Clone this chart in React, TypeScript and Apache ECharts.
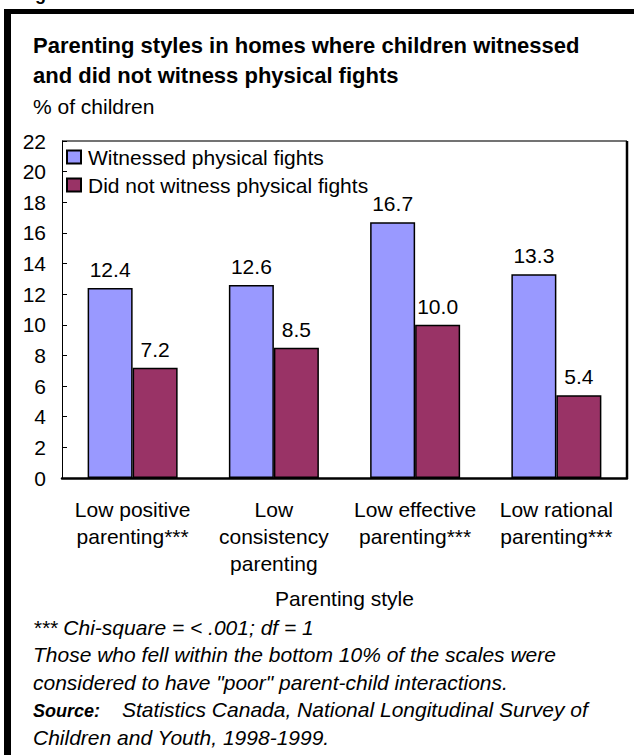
import React, { useEffect, useRef } from "react";
import * as echarts from "echarts";

const categories = [
  "Low positive\nparenting***",
  "Low\nconsistency\nparenting",
  "Low effective\nparenting***",
  "Low rational\nparenting***",
];
const witnessed = [12.4, 12.6, 16.7, 13.3];
const notWitnessed = [7.2, 8.5, 10.0, 5.4];
const seriesNames = ["Witnessed physical fights", "Did not witness physical fights"];
const titleLines = [
  "Parenting styles in homes where children witnessed",
  "and did not witness physical fights",
];
const footnotes = [
  "*** Chi-square = < .001; df = 1",
  "Those who fell within the bottom 10% of the scales were",
  "considered to have \"poor\" parent-child interactions.",
];
const sourceLabel = "Source:";
const sourceLines = [
  "Statistics Canada, National Longitudinal Survey of",
  "Children and Youth, 1998-1999.",
];

const FONT = "'Liberation Sans', Arial, sans-serif";
const FS = 21;

export default function App() {
  const ref = useRef<HTMLDivElement>(null);
  useEffect(() => {
    if (!ref.current) return;
    const chart = echarts.init(ref.current, null, { renderer: "svg" });
    const gridLeft = 62, gridTop = 141, gridRight = 627, gridBottom = 478;
    const fnTop = 627;
    const labelCfg = {
      show: true,
      position: "top",
      distance: 8,
      fontSize: FS,
      color: "#000",
      fontFamily: FONT,
      formatter: (p: any) => Number(p.value).toFixed(1),
    };
    chart.setOption({
      animation: false,
      textStyle: { fontFamily: FONT, color: "#000" },
      grid: {
        left: gridLeft,
        top: gridTop,
        width: gridRight - gridLeft,
        height: gridBottom - gridTop,
      },
      legend: {
        orient: "vertical",
        left: 66,
        top: 146,
        padding: 0,
        itemGap: 6,
        itemWidth: 14,
        itemHeight: 13,
        icon: "rect",
        textStyle: { fontSize: FS, lineHeight: 22, color: "#000", fontFamily: FONT, padding: [0, 0, 0, 2] },
        data: seriesNames,
      },
      xAxis: {
        type: "category",
        data: categories,
        axisLine: { lineStyle: { color: "#000", width: 2.5 } },
        axisTick: { show: false },
        axisLabel: {
          fontSize: FS,
          lineHeight: 27,
          color: "#000",
          margin: 18,
          fontFamily: FONT,
          interval: 0,
        },
        name: "Parenting style",
        nameLocation: "middle",
        nameGap: 110,
        nameTextStyle: { fontSize: FS, color: "#000", fontFamily: FONT, verticalAlign: "top" },
      },
      yAxis: {
        type: "value",
        min: 0,
        max: 22,
        interval: 2,
        splitLine: { show: false },
        axisLine: { show: true, lineStyle: { color: "#000", width: 1 } },
        axisTick: { show: true, inside: true, length: 5, lineStyle: { color: "#000" } },
        axisLabel: { fontSize: FS, color: "#000", margin: 16, fontFamily: FONT },
      },
      series: [
        {
          name: seriesNames[0],
          type: "bar",
          data: witnessed,
          barWidth: 45,
          barGap: "0%",
          itemStyle: { color: "#9999FF", borderColor: "#000", borderWidth: 1.5 },
          label: labelCfg,
        },
        {
          name: seriesNames[1],
          type: "bar",
          data: notWitnessed,
          barWidth: 45,
          barGap: "0%",
          itemStyle: { color: "#993366", borderColor: "#000", borderWidth: 1.5 },
          label: labelCfg,
        },
      ],
      graphic: [
        // frame (top and left thick black bars)
        { type: "rect", shape: { x: 4, y: 9, width: 630, height: 5 }, style: { fill: "#000" } },
        { type: "rect", shape: { x: 4, y: 9, width: 7, height: 760 }, style: { fill: "#000" } },
        // cut-off heading above frame
        {
          type: "text",
          x: 19,
          y: -15,
          style: { text: "Fig", font: `bold 18px ${FONT}`, fill: "#000", textVerticalAlign: "top" },
        },
        // plot top and right borders
        { type: "line", shape: { x1: gridLeft, y1: gridTop, x2: gridRight, y2: gridTop }, style: { stroke: "#444", lineWidth: 1.5 } },
        { type: "line", shape: { x1: gridRight, y1: gridTop, x2: gridRight, y2: gridBottom }, style: { stroke: "#000", lineWidth: 2.5 } },
        // title
        ...titleLines.map((t, i) => ({
          type: "text",
          x: 33,
          y: 45 + i * 30,
          style: { text: t, font: `bold 22px ${FONT}`, fill: "#000", textVerticalAlign: "middle" },
        })),
        {
          type: "text",
          x: 33,
          y: 106,
          style: { text: "% of children", font: `${FS}px ${FONT}`, fill: "#000", textVerticalAlign: "middle" },
        },
        // footnotes
        ...footnotes.map((t, i) => ({
          type: "text",
          x: 33,
          y: fnTop + i * 27.5,
          style: { text: t, font: `italic ${FS}px ${FONT}`, fill: "#000", textVerticalAlign: "middle" },
        })),
        {
          type: "text",
          x: 33,
          y: fnTop + 3 * 27.5 + 1,
          style: { text: sourceLabel, font: `italic bold 18px ${FONT}`, fill: "#000", textVerticalAlign: "middle" },
        },
        {
          type: "text",
          x: 122,
          y: fnTop + 3 * 27.5,
          style: { text: sourceLines[0], font: `italic ${FS}px ${FONT}`, fill: "#000", textVerticalAlign: "middle" },
        },
        {
          type: "text",
          x: 33,
          y: fnTop + 4 * 27.5,
          style: { text: sourceLines[1], font: `italic ${FS}px ${FONT}`, fill: "#000", textVerticalAlign: "middle" },
        },
      ],
    });
    return () => chart.dispose();
  }, []);
  return (
    <div
      ref={ref}
      style={{ position: "fixed", left: 0, top: 0, width: 634, height: 755, background: "#fff" }}
    />
  );
}
